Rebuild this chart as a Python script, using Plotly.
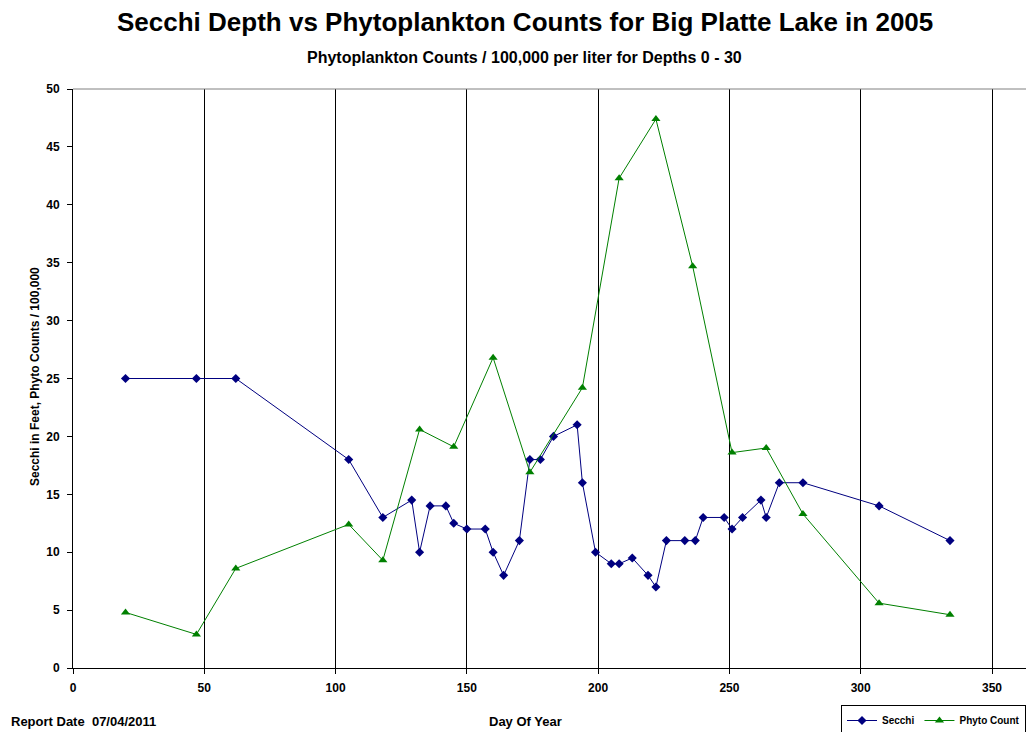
import plotly.graph_objects as go

# data
secchi_day = [20, 47, 62, 105, 118, 129, 132, 136, 142, 145, 150, 157, 160, 164, 170,
              174, 178, 183, 192, 194, 199, 205, 208, 213, 219, 222, 226, 233, 237,
              240, 248, 251, 255, 262, 264, 269, 278, 307, 334]
secchi_ft = [25, 25, 25, 18, 13, 14.5, 10, 14, 14, 12.5, 12, 12, 10, 8, 11,
             18, 18, 20, 21, 16, 10, 9, 9, 9.5, 8, 7, 11, 11, 11,
             13, 13, 12, 13, 14.5, 13, 16, 16, 14, 11]

phyto_day = [20, 47, 62, 105, 118, 132, 145, 160, 174, 194, 208, 222, 236, 251, 264, 278, 307, 334]
phyto_count = [4.8, 2.9, 8.6, 12.4, 9.3, 20.6, 19.1, 26.8, 16.9, 24.2, 42.3, 47.4, 34.7,
               18.6, 19.0, 13.3, 5.6, 4.6]

x_ticks = [0, 50, 100, 150, 200, 250, 300, 350]
y_ticks = [0, 5, 10, 15, 20, 25, 30, 35, 40, 45, 50]

# page body keeps its 8px margin, so the figure is made 16px smaller
# and every position below is given in page pixels
OFF = 8
W, H = 1034 - 2 * OFF, 740 - 2 * OFF
L = 73 - OFF
T = 89 - OFF
R = 0
B = H - (668 - OFF)
X_PER_DAY = (992 - 73) / 350.0
X_MAX = (W - L - R) / X_PER_DAY
FONT = "Liberation Sans, Arial, sans-serif"


def py(page_y):
    return (H - B - (page_y - OFF)) / (H - T - B)


def px(page_x):
    return (page_x - OFF - L) / (W - L - R)


fig = go.Figure()
fig.add_trace(go.Scatter(
    x=secchi_day, y=secchi_ft, name="Secchi", mode="lines+markers",
    line=dict(color="#000080", width=1),
    marker=dict(symbol="diamond", size=7, color="#000080"),
))
fig.add_trace(go.Scatter(
    x=phyto_day, y=phyto_count, name="Phyto Count", mode="lines+markers",
    line=dict(color="#008000", width=1),
    marker=dict(symbol="triangle-up", size=8, color="#008000"),
))

fig.update_xaxes(
    range=[0, X_MAX], tickvals=x_ticks, ticks="outside", ticklen=5, tickcolor="black",
    ticklabelstandoff=4,
    showline=True, linecolor="black", linewidth=1,
    showgrid=True, gridcolor="black", gridwidth=1, zeroline=False,
    tickfont=dict(family=FONT, size=12, color="black", weight="bold"),
)
fig.update_yaxes(
    range=[0, 50], tickvals=y_ticks, ticks="outside", ticklen=5, tickcolor="black",
    ticklabelstandoff=5,
    showline=True, linecolor="black", linewidth=1,
    showgrid=False, zeroline=False,
    tickfont=dict(family=FONT, size=12, color="black", weight="bold"),
)

fig.add_shape(type="line", xref="paper", yref="paper", x0=0, x1=1, y0=1, y1=1,
              line=dict(color="#808080", width=1))


def label(text, x, y, size, **kw):
    fig.add_annotation(text="<b>" + text + "</b>", xref="paper", yref="paper",
                       x=px(x), y=py(y), showarrow=False,
                       xanchor=kw.pop("xanchor", "center"), yanchor="middle",
                       font=dict(family=FONT, size=size, color="black"), **kw)


label("Secchi Depth vs Phytoplankton Counts for Big Platte Lake in 2005", 525, 22, 26)
label("Phytoplankton Counts / 100,000 per liter for Depths 0 - 30", 524, 58, 16)
label("Secchi in Feet, Phyto Counts / 100,000", 35, 377, 12, textangle=-90)
label("Report Date  07/04/2011", 9, 722, 13, xanchor="left")
label("Day Of Year", 525, 722, 13)

fig.update_layout(
    width=W, height=H,
    margin=dict(l=L, r=R, t=T, b=B),
    plot_bgcolor="white", paper_bgcolor="white",
    showlegend=True,
    legend=dict(
        orientation="h", xref="paper", yref="container",
        x=px(842), y=(H - (705 - OFF)) / H, xanchor="left", yanchor="top",
        bordercolor="black", borderwidth=1, bgcolor="white",
        font=dict(family=FONT, size=10, color="black", weight="bold"),
        itemwidth=30, tracegroupgap=0,
    ),
)

fig.write_html("out.html")
